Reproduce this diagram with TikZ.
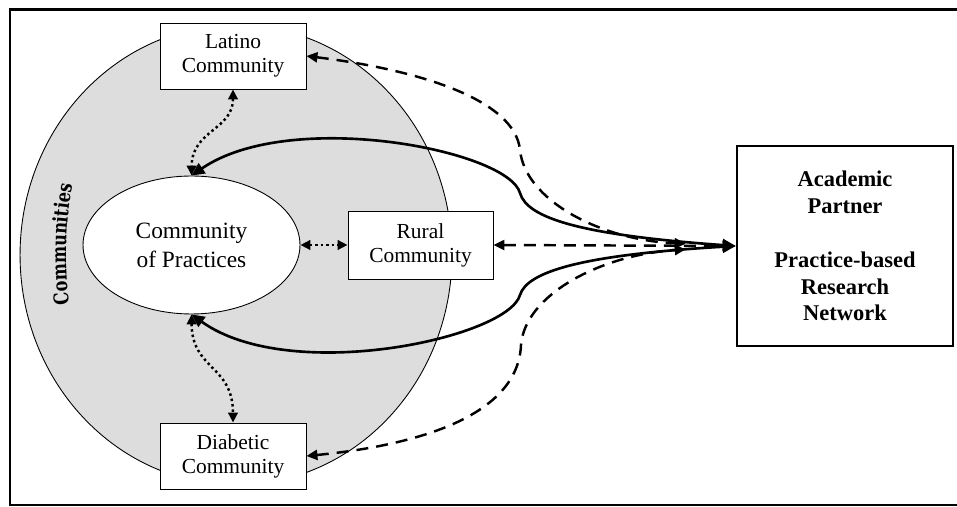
\documentclass[tikz,border=0pt]{standalone}
\usepackage{fontspec}
\setmainfont{Liberation Serif}
\newfontfamily\slabfont[FakeStretch=0.8]{DejaVu Serif}
\usetikzlibrary{shapes.geometric,arrows.meta,decorations.text}

\begin{document}
\begin{tikzpicture}[x=0.02cm,y=0.02cm,
	commbox/.style={shape=rectangle,draw=black,fill=white,line width=0.5pt,inner sep=0pt,minimum width=2.92cm,minimum height=1.32cm,align=center,font=\fontsize{12.2}{13.6}\selectfont},
	dotlink/.style={line width=1.4pt,dash pattern=on 1.4pt off 1.7pt,{Triangle[length=0.2cm,width=0.19cm]}-{Triangle[length=0.2cm,width=0.19cm]}},
	dashlink/.style={line width=1.4pt,dash pattern=on 0.24cm off 0.16cm,{Triangle[length=0.22cm,width=0.2cm]}-{Triangle[length=0.22cm,width=0.2cm]}},
	solidlink/.style={line width=1.5pt,{Triangle[length=0.26cm,width=0.24cm]}-{Triangle[length=0.26cm,width=0.24cm]}}]
	\useasboundingbox (0,0) rectangle (957,507);
	\draw[line width=1.7pt] (10,2) rectangle (964,497);

	\node[shape=ellipse,draw=black,fill=gray!27,line width=0.5pt,inner sep=0pt,minimum width=8.64cm,minimum height=9.2cm] (communities) at (236,252) {};
	\path[decorate,decoration={text along path,text align=center,text={|\slabfont\bfseries\fontsize{11.5}{13}\selectfont|Communities}}]
		(236,252) ++(205:170 and 260) arc[start angle=205,end angle=150,x radius=170,y radius=260];

	\node[commbox] (latino) at (233,451) {Latino\\Community};
	\node[commbox] (diabetic) at (233,51) {Diabetic\\Community};
	\node[commbox,minimum width=2.9cm,minimum height=1.36cm] (rural) at (420.5,262) {Rural\\Community};
	\node[shape=ellipse,draw=black,fill=white,line width=0.5pt,inner sep=0pt,minimum width=4.34cm,minimum height=2.76cm,align=center,font=\fontsize{13.3}{16.4}\selectfont] (practices) at (191.5,262) {Community\\of Practices};

	\node[shape=rectangle,draw=black,fill=white,line width=1.5pt,inner sep=0pt,minimum width=4.32cm,minimum height=4cm,align=center,font=\bfseries\fontsize{12.8}{15.3}\selectfont] (academic) at (845,261) {Academic\\Partner\\[15.3pt]Practice-based\\Research\\Network};

	\draw[dotlink] (latino.south) .. controls (233,377) and (192,377) .. (practices.north);
	\draw[dotlink] (practices.south) .. controls (192,137) and (233,142) .. (diabetic.north);
	\draw[dotlink] (practices.east) -- (rural.west);
	\draw[dashlink] (rural.east) -- (academic.west);

	\draw[solidlink] (academic.west) .. controls (580,272) and (527,289) .. (520,314) .. controls (508,357) and (290,399) .. (practices.north);
	\draw[solidlink] (academic.west) .. controls (580,252) and (527,235) .. (520,212) .. controls (508,169) and (290,122) .. (practices.south);

	\draw[dashlink,shorten >=1cm] (latino.east) .. controls (420,437) and (515,407) .. (520,357) .. controls (525,307) and (600,267) .. (academic.west);
	\draw[dashlink,shorten >=1cm] (diabetic.east) .. controls (420,62) and (518,92) .. (521,162) .. controls (525,212) and (600,252) .. (academic.west);
\end{tikzpicture}
\end{document}
